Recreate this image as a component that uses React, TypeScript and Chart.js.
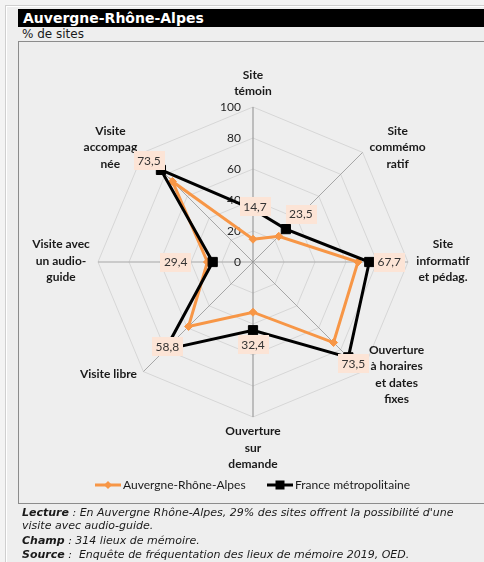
import React, { useEffect, useRef } from 'react';
import { Chart, registerables } from 'chart.js';

Chart.register(...registerables);

// ---------- data ----------
const categories: string[][] = [
  ['Site', 'témoin'],
  ['Site', 'commémo', 'ratif'],
  ['Site', 'informatif', 'et pédag.'],
  ['Ouverture', 'à horaires', 'et dates', 'fixes'],
  ['Ouverture', 'sur', 'demande'],
  ['Visite libre'],
  ['Visite avec', 'un audio-', 'guide'],
  ['Visite', 'accompag', 'née'],
];
const seriesNames = ['Auvergne-Rhône-Alpes', 'France métropolitaine'];
const auvergneValues = [14.7, 23.5, 67.7, 73.5, 32.4, 58.8, 29.4, 73.5];
const franceValues = [34, 30, 75, 87, 44, 80, 26, 84];
const tickValues = [0, 20, 40, 60, 80, 100];
const dataLabelTexts = ['14,7', '23,5', '67,7', '73,5', '32,4', '58,8', '29,4', '73,5'];

// ---------- styles ----------
const ORANGE = '#f79646';
const BLACK = '#000000';
const pointLabelOffsets = [[0, -24], [35, -5], [35, -1], [34, 3], [0, 31], [-35, 3], [-37, -1], [-33, -5]];
const dataLabelOffsets = [[2, -3], [15, -15], [20, 0], [5, 6], [0, 14], [2, -3], [-37, 0], [-12, -9]];

const overlayPlugin = {
  id: 'overlay',
  beforeDatasetsDraw(chart: any) {
    const scale = chart.scales.r;
    const ctx = chart.ctx;
    ctx.save();
    // tick labels
    ctx.font = '12px Lato';
    ctx.fillStyle = '#262626';
    ctx.textAlign = 'right';
    ctx.textBaseline = 'middle';
    tickValues.forEach((v) => {
      const p = scale.getPointPositionForValue(0, v);
      ctx.fillText(String(v), p.x - 12, p.y);
    });
    // point labels
    ctx.font = 'bold 12px Lato';
    ctx.fillStyle = '#1a1a1a';
    ctx.textAlign = 'center';
    const lh = 16.5;
    categories.forEach((lines, i) => {
      const p = scale.getPointPositionForValue(i, scale.max);
      const [dx, dy] = pointLabelOffsets[i];
      const cx = p.x + dx;
      const cy = p.y + dy;
      lines.forEach((t, j) => {
        ctx.fillText(t, cx, cy + (j - (lines.length - 1) / 2) * lh);
      });
    });
    ctx.restore();
  },
  afterDatasetsDraw(chart: any) {
    const scale = chart.scales.r;
    const ctx = chart.ctx;
    ctx.save();
    // data labels (values of first series, placed near second series points)
    ctx.font = '12px Lato';
    ctx.textAlign = 'center';
    ctx.textBaseline = 'middle';
    dataLabelTexts.forEach((t, i) => {
      const p = scale.getPointPositionForValue(i, franceValues[i]);
      const [dx, dy] = dataLabelOffsets[i];
      const cx = p.x + dx;
      const cy = p.y + dy;
      const w = ctx.measureText(t).width + 7;
      const h = 19;
      ctx.fillStyle = '#fce4d6';
      ctx.fillRect(Math.round(cx - w / 2), Math.round(cy - h / 2), Math.round(w), h);
      ctx.fillStyle = '#333333';
      ctx.fillText(t, cx, cy + 0.5);
    });

    // legend
    const ly = 485;
    const items = [
      { x0: 95, x1: 121, tx: 123, color: ORANGE, marker: 'diamond' },
      { x0: 267, x1: 293, tx: 295, color: BLACK, marker: 'square' },
    ];
    items.forEach((it, k) => {
      ctx.strokeStyle = it.color;
      ctx.lineWidth = 3;
      ctx.beginPath();
      ctx.moveTo(it.x0, ly);
      ctx.lineTo(it.x1, ly);
      ctx.stroke();
      const mx = (it.x0 + it.x1) / 2;
      ctx.fillStyle = it.color;
      if (it.marker === 'diamond') {
        ctx.beginPath();
        ctx.moveTo(mx, ly - 4);
        ctx.lineTo(mx + 4, ly);
        ctx.lineTo(mx, ly + 4);
        ctx.lineTo(mx - 4, ly);
        ctx.closePath();
        ctx.fill();
      } else {
        ctx.fillRect(mx - 4.5, ly - 4.5, 9, 9);
      }
      ctx.fillStyle = '#1a1a1a';
      ctx.font = '12px Lato';
      ctx.textAlign = 'left';
      ctx.fillText(seriesNames[k], it.tx, ly);
    });
    ctx.restore();
  },
};

export default function App() {
  const canvasRef = useRef<HTMLCanvasElement | null>(null);

  useEffect(() => {
    if (!canvasRef.current) return;
    const chart = new Chart(canvasRef.current, {
      type: 'radar',
      data: {
        labels: categories,
        datasets: [
          {
            label: seriesNames[0],
            data: auvergneValues,
            borderColor: ORANGE,
            backgroundColor: ORANGE,
            pointBackgroundColor: ORANGE,
            pointBorderColor: ORANGE,
            borderWidth: 3,
            pointStyle: 'rectRot',
            pointRadius: 4,
            pointBorderWidth: 1,
            fill: false,
            tension: 0,
            order: 1,
          },
          {
            label: seriesNames[1],
            data: franceValues,
            borderColor: BLACK,
            backgroundColor: BLACK,
            pointBackgroundColor: BLACK,
            pointBorderColor: BLACK,
            borderWidth: 3,
            pointStyle: 'rect',
            pointRadius: 6.5,
            pointBorderWidth: 1,
            fill: false,
            tension: 0,
            order: 0,
          },
        ],
      },
      options: {
        responsive: false,
        animation: false,
        layout: { padding: { left: 98, right: 76, top: 107, bottom: 145 } },
        plugins: {
          legend: { display: false },
          tooltip: { enabled: false },
        },
        scales: {
          r: {
            min: 0,
            max: 100,
            ticks: { display: false, stepSize: 20 },
            grid: { color: '#d6d6d6', lineWidth: 1 },
            angleLines: {
              color: (c: any) => (c.index % 4 === 0 ? '#8c8c8c' : '#a6a6a6'),
              lineWidth: 1,
            },
            pointLabels: { display: false },
          },
        },
      },
      plugins: [overlayPlugin],
    });
    return () => chart.destroy();
  }, []);

  const foot: React.CSSProperties = {
    position: 'absolute',
    left: 22,
    fontFamily: '"DejaVu Sans", Verdana, sans-serif',
    fontStyle: 'italic',
    fontSize: 11,
    lineHeight: '14px',
    color: '#1a1a1a',
    whiteSpace: 'nowrap',
  };

  return (
    <div
      style={{
        position: 'fixed',
        left: 0,
        top: 0,
        width: 484,
        height: 562,
        overflow: 'hidden',
        background: '#f3f3f3',
        fontFamily: '"DejaVu Sans", sans-serif',
      }}
    >
      <div
        style={{
          position: 'absolute',
          left: 5,
          top: 5,
          width: 490,
          height: 570,
          background: '#eeeeee',
          borderLeft: '1px solid #cfcfcf',
          borderTop: '1px solid #cfcfcf',
          boxShadow: 'inset 1px 1px 0 #ffffff',
        }}
      />
      <div
        style={{
          position: 'absolute',
          left: 18,
          top: 9,
          width: 480,
          height: 18,
          background: '#000',
          color: '#fff',
          fontWeight: 'bold',
          fontSize: 14,
          lineHeight: '18px',
          paddingLeft: 5,
          boxSizing: 'border-box',
          whiteSpace: 'nowrap',
        }}
      >
        Auvergne-Rhône-Alpes
      </div>
      <div
        style={{
          position: 'absolute',
          left: 22,
          top: 27,
          fontSize: 12,
          lineHeight: '14px',
          color: '#1a1a1a',
        }}
      >
        % de sites
      </div>
      <div
        style={{
          position: 'absolute',
          left: 18,
          top: 41,
          width: 500,
          height: 461,
          border: '1px solid #8c8c8c',
          background: '#eeeeee',
        }}
      />
      <canvas
        ref={canvasRef}
        width={484}
        height={562}
        style={{ position: 'absolute', left: 0, top: 0, width: 484, height: 562 }}
      />
      <div style={{ ...foot, top: 506 }}>
        <b>Lecture</b> : En Auvergne Rhône-Alpes, 29% des sites offrent la possibilité d'une
      </div>
      <div style={{ ...foot, top: 519 }}>visite avec audio-guide.</div>
      <div style={{ ...foot, top: 534 }}>
        <b>Champ</b> : 314 lieux de mémoire.
      </div>
      <div style={{ ...foot, top: 548 }}>
        <b>Source</b> :&nbsp; Enquête de fréquentation des lieux de mémoire 2019, OED.
      </div>
    </div>
  );
}
